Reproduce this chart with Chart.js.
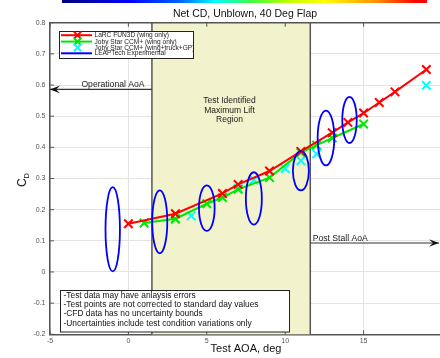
<!DOCTYPE html>
<html>
<head>
<meta charset="utf-8">
<script src="https://cdn.jsdelivr.net/npm/chart.js@4.4.0/dist/chart.umd.min.js"></script>
<style>
html,body{margin:0;padding:0;background:#fff;overflow:hidden;}
#wrap{position:relative;width:450px;height:358px;}
#jet{position:absolute;left:62px;top:0;width:365px;height:3px;
  background:linear-gradient(to right,#00007a 0%,#0000ff 18%,#0060ff 32%,#00ffff 42%,#40ff40 52%,#c0ff00 62%,#ffff00 72%,#ff9000 86%,#ff0000 97%,#ff0000 100%);}
</style>
</head>
<body>
<div id="wrap"><canvas id="c" width="450" height="358"></canvas><div id="jet"></div></div>
<script>
const xTicks = [-5, 0, 5, 10, 15];
const yTicks = [-0.2, -0.1, 0, 0.1, 0.2, 0.3, 0.4, 0.5, 0.6, 0.7, 0.8];

const larcAoa = [0, 3, 6, 7, 9, 11, 13, 14, 15, 16, 17, 19];
const larcCd  = [0.155, 0.187, 0.252, 0.281, 0.324, 0.387, 0.447, 0.480, 0.510, 0.544, 0.578, 0.650];

const jobyWingAoa = [1, 3, 5, 6, 7, 9, 11, 12, 13, 15];
const jobyWingCd  = [0.157, 0.171, 0.219, 0.239, 0.265, 0.303, 0.383, 0.407, 0.430, 0.475];

const jobyFullAoa = [3, 4, 7, 8, 10, 11, 12, 19];
const jobyFullCd  = [0.168, 0.180, 0.268, 0.295, 0.332, 0.357, 0.379, 0.599];

// test data: centre and half size of each uncertainty ellipse
const testAoa    = [-1, 2, 5, 8, 11, 12.6, 14.1];
const testCd     = [0.137, 0.161, 0.205, 0.236, 0.325, 0.430, 0.488];
const testCdUnc  = [0.135, 0.101, 0.073, 0.084, 0.063, 0.088, 0.074];
const testAoaUnc = [0.46, 0.48, 0.50, 0.51, 0.51, 0.53, 0.46];

const seriesLabels = ['LaRC FUN3D (wing only)', 'Joby Star CCM+ (wing only)', 'Joby Star CCM+ (wing+truck+GP)', 'LEAPTech Experimental'];
const seriesColors = ['#ff0000', '#00e800', '#00ffff', '#0000ff'];

const liftRegion = [1.5, 11.6];
const operationalCd = 0.586;
const postStallCd = 0.093;
const noteLines = [
  '-Test data may have anlaysis errors',
  '-Test points are not corrected to standard day values',
  '-CFD data has no uncertainty bounds',
  '-Uncertainties include test condition variations only'
];

const FONT = '"Liberation Sans", Arial, Helvetica, sans-serif';
const pts = (xs, ys) => xs.map((v, i) => ({x: v, y: ys[i]}));

function arrow(ctx, fromX, toX, py) {
  ctx.beginPath(); ctx.moveTo(fromX, py); ctx.lineTo(toX, py); ctx.stroke();
  const d = Math.sign(toX - fromX), L = 10, W = 3.8;
  ctx.beginPath();
  ctx.moveTo(toX, py);
  ctx.lineTo(toX - d * L, py - W);
  ctx.lineTo(toX - d * L * 0.6, py);
  ctx.lineTo(toX - d * L, py + W);
  ctx.closePath(); ctx.fill();
}

const deco = {
  id: 'deco',
  beforeDatasetsDraw(chart) {
    const {ctx, chartArea: a, scales: {x, y}} = chart;
    const x0 = x.getPixelForValue(liftRegion[0]), x1 = x.getPixelForValue(liftRegion[1]);
    ctx.save();
    ctx.fillStyle = '#f2f2cc';
    ctx.fillRect(x0, a.top, x1 - x0, a.bottom - a.top);
    ctx.strokeStyle = '#555'; ctx.lineWidth = 1.5;
    [x0, x1].forEach(px => { ctx.beginPath(); ctx.moveTo(px, a.top); ctx.lineTo(px, a.bottom); ctx.stroke(); });
    ctx.fillStyle = '#222';
    ctx.font = '8.5px ' + FONT;
    ctx.textAlign = 'center'; ctx.textBaseline = 'middle';
    const cx = x.getPixelForValue(6.45);
    ['Test Identified', 'Maximum Lift', 'Region'].forEach((t, i) => ctx.fillText(t, cx, 100.7 + i * 9.7));
    ctx.restore();
  },
  afterDatasetsDraw(chart) {
    const {ctx, chartArea: a, scales: {x, y}} = chart;
    ctx.save();
    ctx.beginPath(); ctx.rect(a.left, a.top, a.right - a.left, a.bottom - a.top); ctx.clip();
    // test uncertainty ellipses
    ctx.strokeStyle = seriesColors[3]; ctx.lineWidth = 1.8;
    testAoa.forEach((v, i) => {
      const cx = x.getPixelForValue(v), cy = y.getPixelForValue(testCd[i]);
      const rx = x.getPixelForValue(v + testAoaUnc[i]) - cx;
      const ry = cy - y.getPixelForValue(testCd[i] + testCdUnc[i]);
      ctx.beginPath(); ctx.ellipse(cx, cy, rx, ry, 0, 0, Math.PI * 2); ctx.stroke();
    });
    ctx.restore();
  },
  afterDraw(chart) {
    const {ctx, chartArea: a, scales: {x, y}} = chart;
    ctx.save();
    // top border + inward ticks
    ctx.strokeStyle = '#555'; ctx.lineWidth = 1.5;
    ctx.beginPath(); ctx.moveTo(a.left, a.top); ctx.lineTo(a.right, a.top); ctx.stroke();
    ctx.lineWidth = 1;
    yTicks.forEach(v => {
      const py = y.getPixelForValue(v);
      ctx.beginPath(); ctx.moveTo(a.left, py); ctx.lineTo(a.left + 4, py); ctx.stroke();
    });
    xTicks.forEach(v => {
      const px = x.getPixelForValue(v);
      ctx.beginPath(); ctx.moveTo(px, a.bottom); ctx.lineTo(px, a.bottom - 4);
      ctx.moveTo(px, a.top); ctx.lineTo(px, a.top + 4); ctx.stroke();
    });

    // arrows
    ctx.strokeStyle = '#333'; ctx.fillStyle = '#111'; ctx.lineWidth = 1.2;
    const xl = x.getPixelForValue(liftRegion[0]), xr = x.getPixelForValue(liftRegion[1]);
    const yo = y.getPixelForValue(operationalCd), yp = y.getPixelForValue(postStallCd);
    arrow(ctx, xl, a.left, yo);
    arrow(ctx, xr, Math.min(a.right - 1, 439), yp);
    ctx.fillStyle = '#222';
    ctx.font = '8.6px ' + FONT;
    ctx.textBaseline = 'alphabetic';
    ctx.textAlign = 'center';
    ctx.fillText('Operational AoA', (a.left + xl) / 2 + 12, yo - 2.5);
    ctx.textAlign = 'left';
    ctx.fillText('Post Stall AoA', xr + 2.5, yp - 1.8);

    // legend
    ctx.fillStyle = '#fff'; ctx.strokeStyle = '#222'; ctx.lineWidth = 1;
    ctx.fillRect(59, 31, 134, 27); ctx.strokeRect(59.5, 31.5, 134, 27);
    const ly = [35.2, 41.6, 47.6, 53.3];
    chart.data.datasets.forEach((ds, i) => {
      ctx.strokeStyle = ds.borderColor; ctx.lineWidth = 2;
      if (ds.showLine !== false) {
        ctx.beginPath(); ctx.moveTo(61, ly[i]); ctx.lineTo(92, ly[i]); ctx.stroke();
      }
      if (ds.pointRadius > 0) {
        const r = 3.6;
        ctx.beginPath();
        ctx.moveTo(77.5 - r, ly[i] - r); ctx.lineTo(77.5 + r, ly[i] + r);
        ctx.moveTo(77.5 - r, ly[i] + r); ctx.lineTo(77.5 + r, ly[i] - r); ctx.stroke();
      }
      ctx.fillStyle = '#222'; ctx.font = '6.6px ' + FONT;
      ctx.textBaseline = 'middle';
      ctx.fillText(ds.label, 94.5, ly[i] + 0.3);
    });

    // note box
    ctx.fillStyle = '#fff'; ctx.strokeStyle = '#222'; ctx.lineWidth = 1;
    ctx.fillRect(60, 290, 229, 42); ctx.strokeRect(60.5, 290.5, 229, 41.5);
    ctx.fillStyle = '#111'; ctx.font = '8.4px ' + FONT; ctx.textBaseline = 'middle';
    noteLines.forEach((t, i) => ctx.fillText(t, 63.5, 295.5 + i * 9.3));

    // title and axis titles
    ctx.fillStyle = '#111'; ctx.textAlign = 'center';
    ctx.font = '10.5px ' + FONT;
    ctx.fillText('Net CD, Unblown, 40 Deg Flap', 245, 14.5);
    ctx.font = '11px ' + FONT;
    ctx.fillText('Test AOA, deg', 246, 348.5);
    ctx.translate(25.5, 187); ctx.rotate(-Math.PI / 2);
    ctx.textAlign = 'left'; ctx.textBaseline = 'alphabetic';
    ctx.font = '12px ' + FONT; ctx.fillText('C', 0, 0);
    ctx.font = '7.5px ' + FONT; ctx.fillText('D', 8.5, 3.5);
    ctx.restore();
  }
};

new Chart(document.getElementById('c'), {
  type: 'scatter',
  data: {
    datasets: [
      {label: seriesLabels[0], data: pts(larcAoa, larcCd), showLine: true, borderColor: seriesColors[0],
       backgroundColor: seriesColors[0], borderWidth: 2, pointStyle: 'crossRot', pointRadius: 6, pointBorderWidth: 2, tension: 0},
      {label: seriesLabels[1], data: pts(jobyWingAoa, jobyWingCd), showLine: true, borderColor: seriesColors[1],
       backgroundColor: seriesColors[1], borderWidth: 2, pointStyle: 'crossRot', pointRadius: 6, pointBorderWidth: 2, tension: 0},
      {label: seriesLabels[2], data: pts(jobyFullAoa, jobyFullCd), showLine: false, borderColor: seriesColors[2],
       backgroundColor: seriesColors[2], pointStyle: 'crossRot', pointRadius: 6, pointBorderWidth: 2},
      {label: seriesLabels[3], data: pts(testAoa, testCd), showLine: true, borderColor: seriesColors[3],
       backgroundColor: seriesColors[3], borderWidth: 0, pointRadius: 0, segment: {borderColor: 'rgba(0,0,0,0)'}}
    ]
  },
  options: {
    responsive: false,
    animation: false,
    events: [],
    layout: {padding: {top: 22.7, right: 0, left: 0, bottom: 0}},
    plugins: {legend: {display: false}, title: {display: false}, tooltip: {enabled: false}},
    scales: {
      x: {
        type: 'linear', min: -5, max: 20,
        afterBuildTicks: s => { s.ticks = xTicks.map(v => ({value: v})); },
        afterFit: s => { s.height = 23.7; },
        grid: {color: '#e4e4e4', drawTicks: false},
        border: {display: true, color: '#555', width: 1.5},
        ticks: {padding: 2.5, color: '#555', font: {size: 7, family: FONT}, maxRotation: 0}
      },
      y: {
        type: 'linear', min: -0.2, max: 0.8,
        afterBuildTicks: s => { s.ticks = yTicks.map(v => ({value: v})); },
        afterFit: s => { s.width = 50; },
        grid: {color: '#e4e4e4', drawTicks: false},
        border: {display: true, color: '#555', width: 1.5},
        ticks: {padding: 4.5, color: '#555', font: {size: 7, family: FONT},
                callback: v => Math.abs(v) < 1e-9 ? '0' : v.toFixed(1)}
      }
    }
  },
  plugins: [deco]
});
</script>
</body>
</html>
